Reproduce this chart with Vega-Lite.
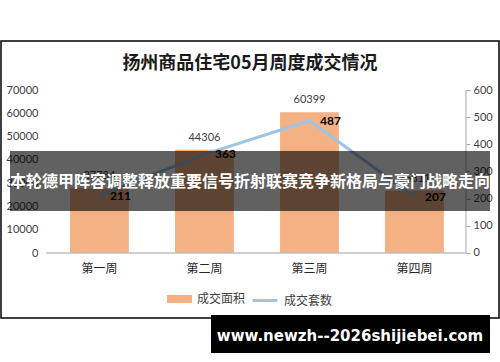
{
 "$schema": "https://vega.github.io/schema/vega-lite/v6.json",
 "width": 498,
 "height": 277,
 "autosize": {"type": "none"},
 "padding": {"left": 1, "top": 41, "right": 1, "bottom": 44},
 "background": "white",
 "title": {"text": "扬州商品住宅05月周度成交情况", "font": "Noto Sans CJK SC", "fontSize": 18, "fontWeight": "bold", "color": "#1a1a1a", "anchor": "middle", "baseline": "middle", "offset": -41},
 "config": {"view": {"stroke": "#000", "strokeWidth": 1.5}, "font": "Lato", "axis": {"labelOverlap": false, "labelBound": false}},
 "data": {"values": [
  {"week": "第一周", "area": 27784, "units": 211},
  {"week": "第二周", "area": 44306, "units": 363},
  {"week": "第三周", "area": 60399, "units": 487},
  {"week": "第四周", "area": 26811, "units": 207}
 ]},
 "layer": [
  {
   "layer": [
    {
     "layer": [
      {
       "mark": {"type": "bar"},
       "encoding": {
        "x": {"field": "week", "type": "nominal", "sort": null,
              "scale": {"paddingInner": 0.44, "paddingOuter": 0.591, "align": 0.556},
              "axis": {"title": null, "orient": "bottom", "offset": -65, "domain": false, "ticks": false, "labelPadding": 10, "labelAngle": 0, "labelFont": "Noto Sans CJK SC", "labelFontSize": 12, "labelColor": "#262626"}},
        "y": {"field": "area", "type": "quantitative",
              "scale": {"domain": [-27914, 91043], "nice": false, "zero": false},
              "axis": {"title": null, "orient": "left", "values": [0, 10000, 20000, 30000, 40000, 50000, 60000, 70000], "format": "d", "labelOverlap": false, "domain": false, "ticks": false, "tickSize": 0, "grid": false, "labelPadding": 0, "offset": -37, "labelFont": "Lato", "labelFontSize": 11, "labelColor": "#404040"}},
        "fill": {"datum": "成交面积", "type": "nominal", "scale": {"range": ["#F4B183"]},
                 "legend": {"orient": "none", "legendX": 166, "legendY": 245.5, "title": null, "padding": 0, "symbolType": "M-1,-0.32H1V0.32H-1Z", "symbolSize": 625, "symbolStrokeWidth": 0, "labelFont": "Noto Sans CJK SC", "labelFontSize": 12, "labelColor": "#404040", "labelOffset": 5}}
       }
      },
      {
       "mark": {"type": "text", "baseline": "bottom", "dy": -7, "fontSize": 11, "color": "#404040", "font": "Lato"},
       "encoding": {
        "x": {"field": "week", "type": "nominal", "sort": null},
        "y": {"field": "area", "type": "quantitative",
              "axis": {"title": null, "orient": "left", "values": [0, 10000, 20000, 30000, 40000, 50000, 60000, 70000], "format": "d", "labelOverlap": false, "domain": false, "ticks": false, "tickSize": 0, "grid": false, "labelPadding": 0, "offset": -37, "labelFont": "Lato", "labelFontSize": 11, "labelColor": "#404040"}},
        "text": {"field": "area", "type": "nominal"}
       }
      }
     ]
    },
    {
     "layer": [
      {
       "mark": {"type": "line", "strokeWidth": 3},
       "encoding": {
        "x": {"field": "week", "type": "nominal", "sort": null},
        "y": {"field": "units", "type": "quantitative",
              "scale": {"domain": [-239.3, 780.4], "nice": false, "zero": false},
              "axis": {"title": null, "orient": "right", "values": [0, 100, 200, 300, 400, 500, 600], "format": "d", "labelOverlap": false, "domain": false, "ticks": true, "tickSize": 4, "tickColor": "#a6a6a6", "grid": false, "offset": -33, "labelPadding": 3, "labelFont": "Lato", "labelFontSize": 11, "labelColor": "#404040"}},
        "stroke": {"datum": "成交套数", "type": "nominal", "scale": {"range": ["#9DC3E6"]},
                   "legend": {"orient": "none", "legendX": 250, "legendY": 245.5, "title": null, "padding": 0, "symbolType": "M-1,0H1", "symbolSize": 625, "symbolStrokeWidth": 3, "labelFont": "Noto Sans CJK SC", "labelFontSize": 12, "labelColor": "#404040", "labelOffset": 5}}
       }
      },
      {
       "mark": {"type": "text", "baseline": "middle", "dx": 21, "fontSize": 12, "fontWeight": "bold", "color": "#000", "font": "Lato"},
       "encoding": {
        "x": {"field": "week", "type": "nominal", "sort": null},
        "y": {"field": "units", "type": "quantitative",
              "axis": {"title": null, "orient": "right", "values": [0, 100, 200, 300, 400, 500, 600], "format": "d", "labelOverlap": false, "domain": false, "ticks": true, "tickSize": 4, "tickColor": "#a6a6a6", "grid": false, "offset": -33, "labelPadding": 3, "labelFont": "Lato", "labelFontSize": 11, "labelColor": "#404040"}},
        "text": {"field": "units", "type": "nominal"}
       }
      }
     ]
    }
   ],
   "resolve": {"scale": {"y": "independent"}}
  },
  {
   "data": {"values": [{}]},
   "layer": [
    {
     "mark": {"type": "rule", "color": "#bfbfbf", "strokeWidth": 1.5},
     "encoding": {
      "x": {"datum": 0.0904, "type": "quantitative", "scale": {"domain": [0, 1], "nice": false, "zero": false}, "axis": null},
      "x2": {"datum": 0.9337},
      "y": {"datum": 0.2347, "type": "quantitative", "scale": {"domain": [0, 1], "nice": false, "zero": false}, "axis": null}
     }
    },
    {
     "mark": {"type": "rule", "color": "#a6a6a6", "strokeWidth": 1},
     "encoding": {
      "x": {"datum": 0.9337, "type": "quantitative"},
      "y": {"datum": 0.2347, "type": "quantitative"},
      "y2": {"datum": 0.8231}
     }
    },
    {
     "mark": {"type": "rect", "color": "#000", "opacity": 0.62},
     "encoding": {
      "x": {"datum": 0.0181, "type": "quantitative"},
      "x2": {"datum": 0.9819},
      "y": {"datum": 0.6029, "type": "quantitative"},
      "y2": {"datum": 0.3863}
     }
    },
    {
     "mark": {"type": "text", "text": "本轮德甲阵容调整释放重要信号折射联赛竞争新格局与豪门战略走向", "font": "Noto Sans CJK SC", "fontSize": 16, "fontWeight": "bold", "color": "#fff", "align": "center", "baseline": "middle"},
     "encoding": {
      "x": {"datum": 0.5, "type": "quantitative"},
      "y": {"datum": 0.491, "type": "quantitative"}
     }
    },
    {
     "mark": {"type": "rect", "color": "#000", "opacity": 1},
     "encoding": {
      "x": {"datum": 0.4217, "type": "quantitative"},
      "x2": {"datum": 0.9819},
      "y": {"datum": 0.0108, "type": "quantitative"},
      "y2": {"datum": -0.1264}
     }
    },
    {
     "mark": {"type": "text", "text": "www.newzh--2026shijiebei.com", "font": "DejaVu Sans", "fontSize": 15, "fontWeight": "bold", "color": "#fff", "align": "center", "baseline": "middle"},
     "encoding": {
      "x": {"datum": 0.7008, "type": "quantitative"},
      "y": {"datum": -0.065, "type": "quantitative"}
     }
    }
   ]
  }
 ],
 "resolve": {"scale": {"x": "independent", "y": "independent"}}
}
